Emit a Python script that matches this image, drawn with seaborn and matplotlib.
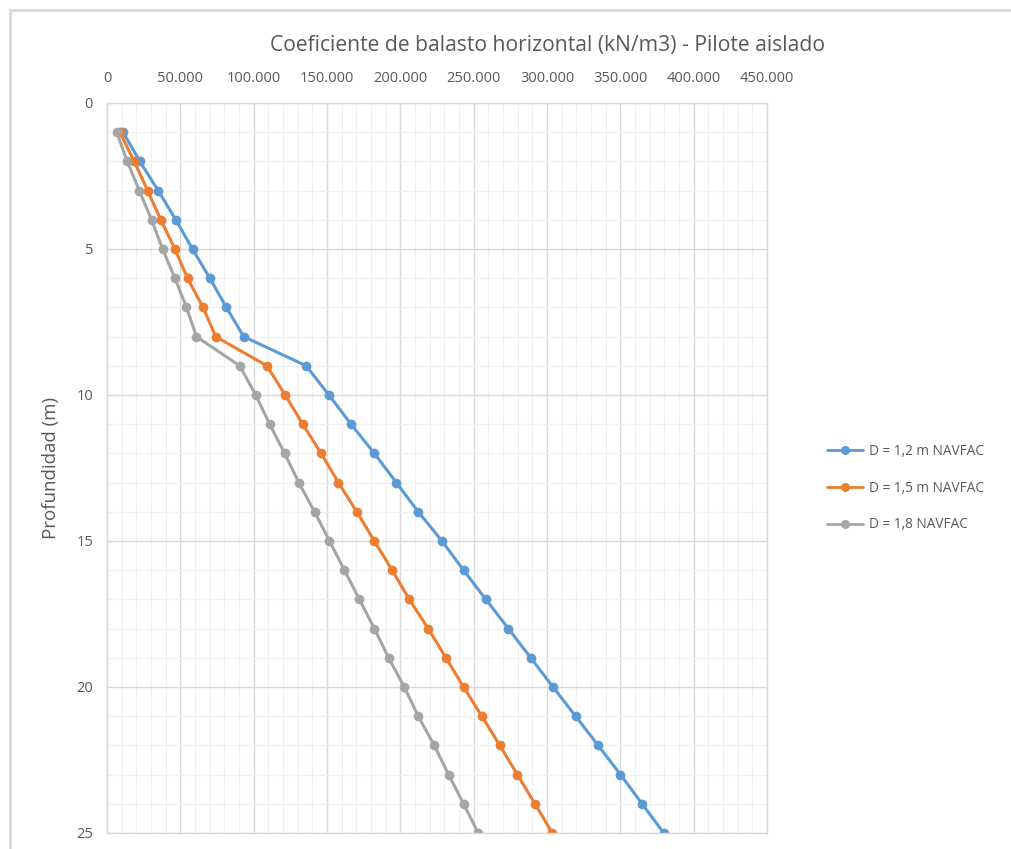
import numpy as np
import pandas as pd
import matplotlib
matplotlib.use("Agg")
import matplotlib.pyplot as plt
from matplotlib.ticker import FuncFormatter, MultipleLocator
from matplotlib.patches import Rectangle
import seaborn as sns

# depth (m) and horizontal subgrade modulus (kN/m3)
depth = list(range(1, 26))
k_d12 = [11000, 22400, 34900, 46900, 58300, 70100, 81400, 93200, 135800, 151300,
         166400, 182300, 197300, 212200, 228400, 243100, 258300, 273700, 288900, 304100,
         319500, 334900, 350100, 364800, 379600]
k_d15 = [8800, 18600, 27700, 36700, 46300, 54900, 65500, 74100, 109000, 121500,
         133500, 146000, 157800, 170300, 182300, 194400, 206100, 219000, 231100, 243100,
         255600, 267800, 279800, 291800, 303600]
k_d18 = [6600, 13800, 22000, 30400, 37900, 46300, 54200, 61000, 90500, 101400,
         110900, 121100, 130800, 141500, 151700, 161900, 172100, 182300, 192000, 202700,
         212200, 223100, 232900, 243100, 253100]
series = ["D = 1,2 m NAVFAC", "D = 1,5 m NAVFAC", "D = 1,8 NAVFAC"]
colors = ["#5B9BD5", "#ED7D31", "#A5A5A5"]

df = pd.concat([
    pd.DataFrame({"k": vals, "depth": depth, "serie": name})
    for name, vals in zip(series, [k_d12, k_d15, k_d18])
], ignore_index=True)

sns.set_style("white")
plt.rcParams["font.family"] = ["Open Sans", "DejaVu Sans"]
text_col = "#595959"

fig = plt.figure(figsize=(10.11, 8.49), dpi=100)
# chart area border like excel
fig.patches.append(Rectangle((10 / 1011, -0.05), 1.1, 1.05 - 10 / 849, transform=fig.transFigure,
                             fill=False, edgecolor="#D9D9D9", linewidth=2))
ax = fig.add_axes([107 / 1011, 1 - 833 / 849, 660 / 1011, 730 / 849])

sns.lineplot(data=df, x="k", y="depth", hue="serie", palette=colors, sort=False,
             marker="o", markersize=7, markeredgewidth=0, linewidth=2.2,
             legend=False, ax=ax, estimator=None)

ax.set_xlim(0, 450000)
ax.set_ylim(25, 0)
ax.xaxis.set_major_locator(MultipleLocator(50000))
ax.xaxis.set_minor_locator(MultipleLocator(10000))
ax.yaxis.set_major_locator(MultipleLocator(5))
ax.yaxis.set_minor_locator(MultipleLocator(1))
ax.xaxis.set_major_formatter(FuncFormatter(lambda v, p: f"{int(v):,}".replace(",", ".")))
ax.xaxis.tick_top()
ax.tick_params(axis="both", which="both", length=0, labelsize=10.5, colors=text_col)
ax.tick_params(axis="x", pad=12)
ax.tick_params(axis="y", pad=10)
ax.grid(which="major", color="#D9D9D9", linewidth=1)
ax.grid(which="minor", color="#F0F0F0", linewidth=0.8)
for s in ax.spines.values():
    s.set_color("#D9D9D9")
    s.set_linewidth(1)
ax.set_xlabel("")
ax.set_ylabel("Profundidad (m)", fontsize=13.5, color=text_col, labelpad=12)

fig.text(547 / 1011, 1 - 46 / 849, "Coeficiente de balasto horizontal (kN/m3) - Pilote aislado",
         ha="center", va="center", fontsize=15.2, color=text_col)

handles = [plt.Line2D([], [], color=c, marker="o", markersize=6.5, markeredgewidth=0, linewidth=2)
           for c in colors]
fig.legend(handles, series, loc="center left", bbox_to_anchor=(815 / 1011, 1 - 488 / 849),
           frameon=False, fontsize=9.8, labelcolor=text_col, handlelength=2.6,
           labelspacing=1.6, handletextpad=0.5)

fig.savefig("out.png", dpi=100)
